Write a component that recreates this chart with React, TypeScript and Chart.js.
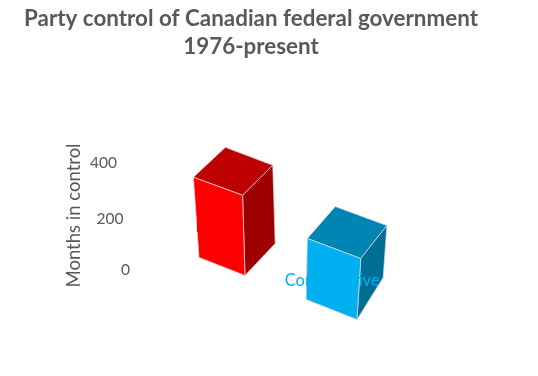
import React, { useEffect, useRef } from "react";
import { Chart, registerables } from "chart.js";

Chart.register(...registerables);

const categories = ["Liberal", "Conservative"];
const months = [300, 228];
const partyColors = ["#FF0000", "#00B0F0"];
const yTicks = [0, 200, 400];
const titleLines = ["Party control of Canadian federal government", "1976-present"];
const yTitle = "Months in control";

const FONT = "Lato, 'Open Sans', sans-serif";
const TEXT = "#595959";

// Oblique view of the 3D plot box: maps (bar-width units, height px, depth 0..1) to the page
function project(u: number, h: number, w: number) {
  return {
    x: 199 + 44.9 * u + 1.1 * u * u + h * (-0.07 + 0.04 * u) + w * (32 - 1.8 * u),
    y: 257.5 + 17.54 * u + 0.46 * u * u - h + w * (-27.6 - 4.42 * u + h * (-0.029 + 0.054 * u)),
  };
}

function shade(hex: string, f: number) {
  const n = parseInt(hex.slice(1), 16);
  const c = [(n >> 16) & 255, (n >> 8) & 255, n & 255].map((v) => Math.round(v * f));
  return `rgb(${c[0]},${c[1]},${c[2]})`;
}

const boxes3d = {
  id: "boxes3d",
  beforeDatasetDraw(chart: any, args: any) {
    const ctx = chart.ctx as CanvasRenderingContext2D;
    const meta = args.meta;
    const first = meta.data[0];
    ctx.save();

    // value axis ticks follow the tilted axis
    const ys = chart.scales.y;
    ctx.font = `15.5px ${FONT}`;
    ctx.textBaseline = "middle";
    ctx.fillStyle = TEXT;
    ctx.textAlign = "right";
    ys.ticks.forEach((t: any) => {
      const k = t.value / ys.max;
      const py = ys.getPixelForValue(t.value) + 10 * k * (1 - k) + 1;
      ctx.fillText(String(t.value), ys.right + 11 - 13 * k, py);
    });

    meta.data.forEach((bar: any, i: number) => {
      const u0 = (bar.x - first.x) / bar.width;
      const u1 = u0 + 1;
      const h = bar.base - bar.y;
      const face = (pts: number[][], fill: string) => {
        ctx.beginPath();
        pts.forEach(([a, b, c], j) => {
          const p = project(a, b, c);
          if (j) ctx.lineTo(p.x, p.y);
          else ctx.moveTo(p.x, p.y);
        });
        ctx.closePath();
        ctx.fillStyle = fill;
        ctx.fill();
        ctx.strokeStyle = "#D9D9D9";
        ctx.lineWidth = 0.75;
        ctx.stroke();
      };
      const col = partyColors[i];
      face([[u0, h, 0], [u1, h, 0], [u1, h, 1], [u0, h, 1]], shade(col, 0.75));
      face([[u1, 0, 0], [u1, 0, 1], [u1, h, 1], [u1, h, 0]], shade(col, 0.62));
      face([[u0, 0, 0], [u1, 0, 0], [u1, h, 0], [u0, h, 0]], col);
    });

    // category labels are painted last, in the colour of their own box
    ctx.font = `16.5px ${FONT}`;
    ctx.textAlign = "center";
    meta.data.forEach((bar: any, i: number) => {
      const u = 0.5 + (bar.x - first.x) / bar.width;
      const p = project(u, 0, 0);
      ctx.fillStyle = partyColors[i];
      ctx.fillText(chart.data.labels[i], p.x - 2.7 + 1.3 * u, p.y - 42.4 + 4.87 * u);
    });
    ctx.restore();
    return false;
  },
};

export default function App() {
  const ref = useRef<HTMLCanvasElement>(null);
  useEffect(() => {
    document.body.style.margin = "0";
    const chart = new Chart(ref.current!, {
      type: "bar",
      data: {
        labels: categories,
        datasets: [{ label: yTitle, data: months, backgroundColor: partyColors, barPercentage: 0.4425, categoryPercentage: 1 }],
      },
      plugins: [boxes3d],
      options: {
        responsive: false,
        animation: false,
        layout: { padding: { left: 0, right: 36, top: 0, bottom: 107 } },
        plugins: {
          legend: { display: false },
          tooltip: { enabled: false },
          title: {
            display: true,
            text: titleLines,
            color: TEXT,
            font: { family: FONT, size: 22.4, weight: "bold", lineHeight: 1.25 },
            padding: { top: 5, bottom: 101 },
          },
        },
        scales: {
          x: { display: false },
          y: {
            min: 0,
            max: 400,
            afterBuildTicks: (s: any) => {
              s.ticks = yTicks.map((value) => ({ value }));
            },
            grid: { display: false, drawTicks: false },
            border: { display: false },
            ticks: { color: "transparent", font: { family: FONT, size: 16 }, padding: 2 },
            title: { display: true, text: yTitle, color: TEXT, font: { family: FONT, size: 18.5 }, padding: { top: 63, bottom: 2 } },
          },
        },
      } as any,
    });
    return () => chart.destroy();
  }, []);
  return <canvas ref={ref} width={538} height={376} style={{ display: "block" }} />;
}
